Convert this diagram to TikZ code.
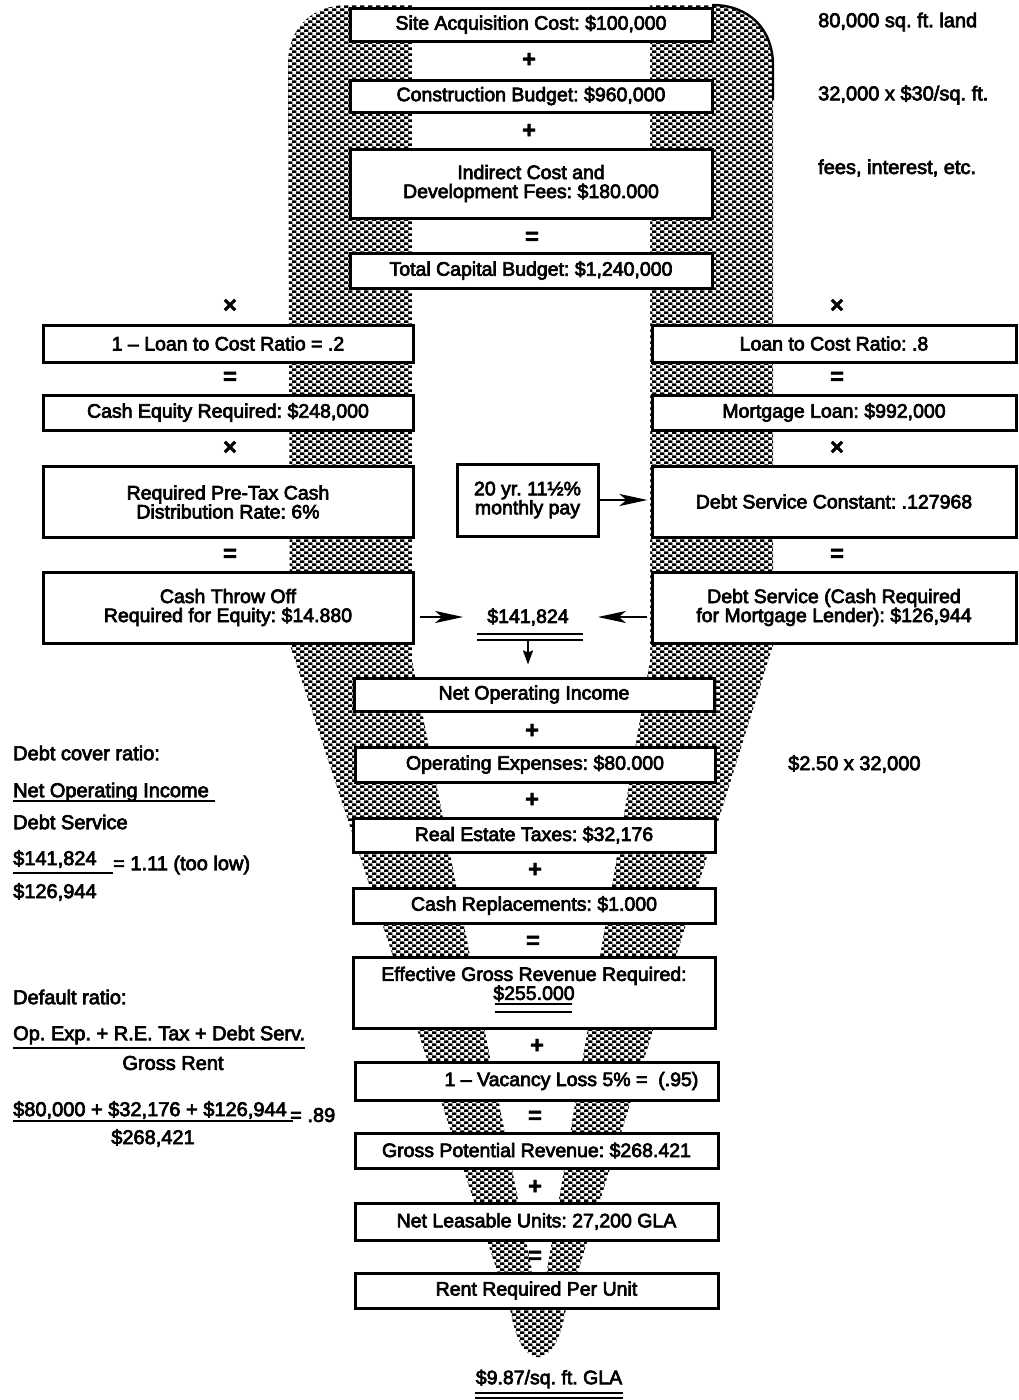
\documentclass[tikz,border=0pt]{standalone}
\usepackage{fontspec}
\newfontfamily\hv{Liberation Sans}[FakeBold=3.5]
\newfontfamily\hvb{Liberation Sans Bold}[FakeBold=1.5]
\usetikzlibrary{arrows.meta,patterns,calc}
\pgfdeclarepatternformonly{stipple}{\pgfqpoint{-1pt}{-1pt}}{\pgfqpoint{9pt}{7pt}}{\pgfqpoint{8pt}{6pt}}{%
  \pgfpathrectangle{\pgfqpoint{0pt}{0pt}}{\pgfqpoint{4.3pt}{2.7pt}}%
  \pgfpathrectangle{\pgfqpoint{4pt}{3pt}}{\pgfqpoint{4.3pt}{2.7pt}}%
  \pgfusepath{fill}}
\begin{document}
\frenchspacing
\begin{tikzpicture}[x=1pt,y=-1pt,
  txt/.style={font=\hv\fontsize{19.5}{19}\selectfont, inner sep=0pt},
  note/.style={font=\hv\fontsize{20}{20}\selectfont, inner sep=0pt, anchor=west},
  box/.style={txt, draw, line width=3pt, fill=white, align=center},
  op/.style={font=\hvb\fontsize{24}{24}\selectfont, inner sep=0pt},
  arr/.style={line width=2.6pt, -{Stealth[length=28pt,width=12pt,inset=7pt]}},
  darr/.style={line width=2pt, -{Stealth[length=14pt,width=10pt,inset=2pt]}},
  uline/.style={line width=2pt}]
\fill[white] (0,0) rectangle (1019,1400);
\useasboundingbox (0,0) rectangle (1019,1400);

% funnel
\fill[pattern=stipple] (288,64) .. controls (288,28) and (312,5) .. (348,5) -- (712,5)
  .. controls (748,5) and (773,28) .. (773,66) -- (773,645) -- (565,1313)
  .. controls (555,1372) and (521,1372) .. (511,1313) -- (290,645) -- cycle;
\draw[line width=2.4pt] (712,5) .. controls (748,5) and (773,28) .. (773,66) -- (773,100);
\fill[white] (412,0) -- (412,660) -- (540,1311) -- (650,660) -- (650,0) -- cycle;

% top column
\node[box, minimum width=362pt, minimum height=33pt] (site) at (531,24.5) {Site Acquisition Cost: \$100,000};
\node[op] (o1) at (529,60) {+};
\node[box, minimum width=362pt, minimum height=32pt] (cons) at (531,96) {Construction Budget: \$960,000};
\node[op] (o2) at (529,131) {+};
\node[box, minimum width=362pt, minimum height=69pt] (ind) at (531,183.5) {Indirect Cost and\\Development Fees: \$180.000};
\node[op] (o3) at (532,238) {=};
\node[box, minimum width=362pt, minimum height=35pt] (tcb) at (531,270.5) {Total Capital Budget: \$1,240,000};

\node[note] (n1) at (818,22) {80,000 sq. ft. land};
\node[note] (n2) at (818,95) {32,000 x \$30/sq. ft.};
\node[note] (n3) at (818,168) {fees, interest, etc.};

% left column
\node[op] (lx1) at (230,306) {×};
\node[box, minimum width=370pt, minimum height=37pt] (lcr) at (228,343.5) {1 – Loan to Cost Ratio = .2};
\node[op] (le1) at (230,378) {=};
\node[box, minimum width=370pt, minimum height=35pt] (ceq) at (228,412.5) {Cash Equity Required: \$248,000};
\node[op] (lx2) at (230,448) {×};
\node[box, minimum width=370pt, minimum height=71pt] (rate) at (228,502) {Required Pre-Tax Cash\\Distribution Rate: 6\%};
\node[op] (le2) at (230,555) {=};
\node[box, minimum width=370pt, minimum height=71pt] (cto) at (228,607.5) {Cash Throw Off\\Required for Equity: \$14.880};

% right column
\node[op] (rx1) at (837,306) {×};
\node[box, minimum width=364pt, minimum height=37pt] (ltc) at (834,343.5) {Loan to Cost Ratio: .8};
\node[op] (re1) at (837,378) {=};
\node[box, minimum width=364pt, minimum height=35pt] (mort) at (834,412.5) {Mortgage Loan: \$992,000};
\node[op] (rx2) at (837,448) {×};
\node[box, minimum width=364pt, minimum height=71pt] (dsc) at (834,501.5) {Debt Service Constant: .127968};
\node[op] (re2) at (837,555) {=};
\node[box, minimum width=364pt, minimum height=71pt] (ds) at (834,607.5) {Debt Service (Cash Required\\for Mortgage Lender): \$126,944};

% middle
\node[box, minimum width=141pt, minimum height=72pt] (yr) at (527.5,500) {20 yr. 11½\%\\monthly pay};
\node[txt] (tot) at (528,617) {\$141,824};
\draw[uline] (477,633.5) -- (583,633.5);
\draw[uline] (477,639.5) -- (583,639.5);
\coordinate (dl) at (528,641);

\coordinate (a1) at (cto.east |- tot);
\coordinate (a2) at (ds.west |- tot);
\draw[arr] ([xshift=5pt]a1) -- ([xshift=-24pt]tot.west);
\draw[arr] ([xshift=-4pt]a2) -- ([xshift=29pt]tot.east);
\draw[arr, shorten >=3pt] (yr.east) -- (yr.east -| dsc.west);

% lower column
\node[box, minimum width=360pt, minimum height=33pt] (noi) at (534,694.5) {Net Operating Income};
\draw[darr, shorten >=12pt] (dl) -- (dl |- noi.north);
\node[op] (p1) at (532,731) {+};
\node[box, minimum width=360pt, minimum height=35pt] (opex) at (535,764.5) {Operating Expenses: \$80.000};
\node[op] (p2) at (532,800) {+};
\node[box, minimum width=362pt, minimum height=34pt] (ret) at (534,835) {Real Estate Taxes: \$32,176};
\node[op] (p3) at (535,870) {+};
\node[box, minimum width=362pt, minimum height=35pt] (repl) at (534,905.5) {Cash Replacements: \$1.000};
\node[op] (p4) at (533,942) {=};
\node[box, minimum width=362pt, minimum height=71pt] (egr) at (534,992.5) {};
\node[txt, align=center] (egrt) at (534,984) {Effective Gross Revenue Required:\\\$255.000};
\draw[uline] (495,1004) -- (572,1004);
\draw[uline] (495,1012) -- (572,1012);
\node[op] (p5) at (537,1046) {+};
\node[box, minimum width=363pt, minimum height=38pt] (vac) at (536.5,1081) {\hspace*{70pt}1 – Vacancy Loss 5\% = \ (.95)};
\node[op] (p6) at (535,1117) {=};
\node[box, minimum width=363pt, minimum height=35pt] (gpr) at (536.5,1150.5) {Gross Potential Revenue: \$268.421};
\node[op] (p7) at (535,1187) {+};
\node[box, minimum width=363pt, minimum height=37pt] (nlu) at (536.5,1221.5) {Net Leasable Units: 27,200 GLA};
\node[op] (p8) at (535,1257) {=};
\node[box, minimum width=363pt, minimum height=35pt] (rr) at (536.5,1290.5) {Rent Required Per Unit};
\node[txt] (fin) at (549,1379) {\$9.87/sq. ft. GLA};
\draw[uline] (475,1392.5) -- (623,1392.5);
\draw[uline] (475,1398) -- (623,1398);

\node[note] (n4) at (788,764) {\$2.50 x 32,000};

% left notes
\node[note] (dcr) at (13,753) {Debt cover ratio:};
\node[note] (nn) at (13,792) {Net Operating Income};
\draw[uline] (13,801) -- (215,801);
\node[note] (dsn) at (13,822) {Debt Service};
\node[note] (f1) at (13,859) {\$141,824};
\draw[uline] (13,873) -- (113,873);
\node[note] (f1r) at (113,865) {= 1.11 (too low)};
\node[note] (f2) at (13,892) {\$126,944};

\node[note] (dfr) at (13,997) {Default ratio:};
\node[note] (g1) at (13,1035) {Op. Exp. + R.E. Tax + Debt Serv.};
\draw[uline] (13,1048) -- (305,1048);
\node[note, anchor=center] (g2) at (173,1063) {Gross Rent};
\node[note] (g3) at (13,1110) {\$80,000 + \$32,176 + \$126,944};
\draw[uline] (13,1121) -- (293,1121);
\node[note] (g3r) at (290,1115) {= .89};
\node[note, anchor=center] (g4) at (153,1138) {\$268,421};
\end{tikzpicture}
\end{document}
